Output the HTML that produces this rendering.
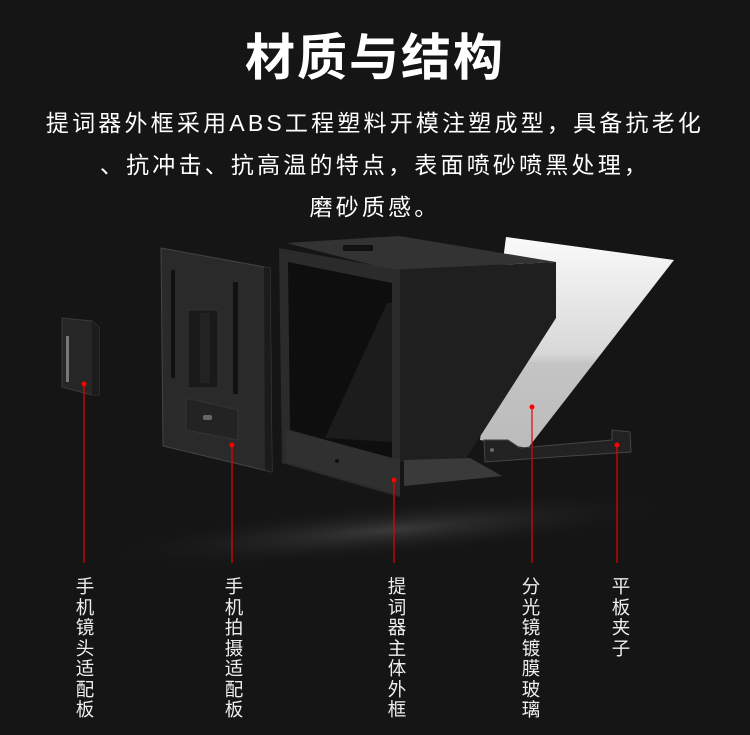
<!DOCTYPE html>
<html><head><meta charset="utf-8"><style>
body{margin:0;background:#151515;width:750px;height:735px;overflow:hidden;position:relative;font-family:"Liberation Sans","Noto Sans CJK SC",sans-serif;color:#fff}
.t{position:absolute;left:0;width:750px;text-align:center;white-space:nowrap}
.v{position:absolute;width:20px;font-size:18.5px;line-height:20.5px;color:#eee;text-align:center;top:577px}
svg{position:absolute;left:0;top:0}
</style></head><body>
<svg width="750" height="735">
<defs>
<radialGradient id="sh" cx="0.5" cy="0.5" r="0.5"><stop offset="0" stop-color="#3a3a3a"/><stop offset="1" stop-color="#151515" stop-opacity="0"/></radialGradient>
<linearGradient id="gl" x1="0" y1="0" x2="0" y2="1"><stop offset="0" stop-color="#fafafa"/><stop offset="0.55" stop-color="#d8d8d8"/><stop offset="0.6" stop-color="#c4c4c4"/><stop offset="1" stop-color="#bbb"/></linearGradient>
</defs>
<ellipse cx="390" cy="530" rx="300" ry="28" fill="url(#sh)" transform="rotate(-5 390 530)"/>
<polygon points="62,318 92,321 99,327 99,395 92,395 62,387" fill="#262626" stroke="#3a3a3a"/>
<polygon points="92,321 99,327 99,395 92,395" fill="#1c1c1c"/>
<rect x="66" y="336" width="3" height="46" fill="#777"/>
<polygon points="161,248 270,268 272,472 163,446" fill="#2a2a2a" stroke="#444"/>
<polygon points="264,267 270,268 272,472 265,470" fill="#1b1b1b"/>
<rect x="171" y="270" width="4" height="108" fill="#111"/>
<rect x="233" y="282" width="5" height="112" fill="#111"/>
<rect x="188" y="310" width="30" height="78" fill="#1a1a1a" stroke="#333"/>
<rect x="200" y="313" width="10" height="70" fill="#222"/>
<polygon points="186,398 238,410 238,440 186,430" fill="#232323" stroke="#333"/>
<rect x="203" y="415" width="9" height="5" rx="2" fill="#666"/>
<polygon points="506,237 674,260 528,448 480,440" fill="url(#gl)"/>
<polygon points="286,243 399,236 556,262 392,270" fill="#333"/>
<rect x="343" y="245" width="30" height="6" fill="#111"/>
<polygon points="392,270 556,262 556,318 465,460 400,462" fill="#1f1f1f"/>
<polygon points="279,248 400,270 400,497 282,463" fill="#2b2b2b"/>
<polygon points="288,262 392,283 392,458 290,430" fill="#0e0e0e"/>
<polygon points="387,303 392,303 392,442 325,438" fill="#1c1c1c"/>
<polygon points="286,430 400,460 400,495 286,462" fill="#303030"/>
<circle cx="337" cy="461" r="2" fill="#111"/>
<polygon points="404,460 470,458 502,476 404,486" fill="#3a3a3a"/>
<polygon points="484,440 508,440 520,448 612,440 612,430 630,432 631,452 540,458 485,462" fill="#222" stroke="#444"/>
<circle cx="492" cy="450" r="2" fill="#666"/>
<g stroke="#e00" stroke-width="1.2">
<line x1="84" y1="384" x2="84" y2="563"/>
<line x1="232" y1="445" x2="232" y2="563"/>
<line x1="394" y1="480" x2="394" y2="563"/>
<line x1="532" y1="407" x2="532" y2="563"/>
<line x1="617" y1="445" x2="617" y2="563"/>
</g>
<g fill="#f00"><circle cx="84" cy="384" r="2.5"/><circle cx="232" cy="445" r="2.5"/><circle cx="394" cy="480" r="2.5"/><circle cx="532" cy="407" r="2.5"/><circle cx="617" cy="445" r="2.5"/></g>
</svg>
<div class="t" style="top:28px;font-size:50px;font-weight:bold;letter-spacing:2px;line-height:60px">材质与结构</div>
<div class="t" style="top:108px;font-size:23px;letter-spacing:3.2px;line-height:30px">提词器外框采用ABS工程塑料开模注塑成型，具备抗老化</div>
<div class="t" style="top:150px;font-size:23px;letter-spacing:3.2px;line-height:30px">、抗冲击、抗高温的特点，表面喷砂喷黑处理，</div>
<div class="t" style="top:192px;font-size:23px;letter-spacing:3.2px;line-height:30px">磨砂质感。</div>
<div class="v" style="left:75px">手机镜头适配板</div>
<div class="v" style="left:224px">手机拍摄适配板</div>
<div class="v" style="left:387px">提词器主体外框</div>
<div class="v" style="left:521px">分光镜镀膜玻璃</div>
<div class="v" style="left:611px">平板夹子</div>
</body></html>
